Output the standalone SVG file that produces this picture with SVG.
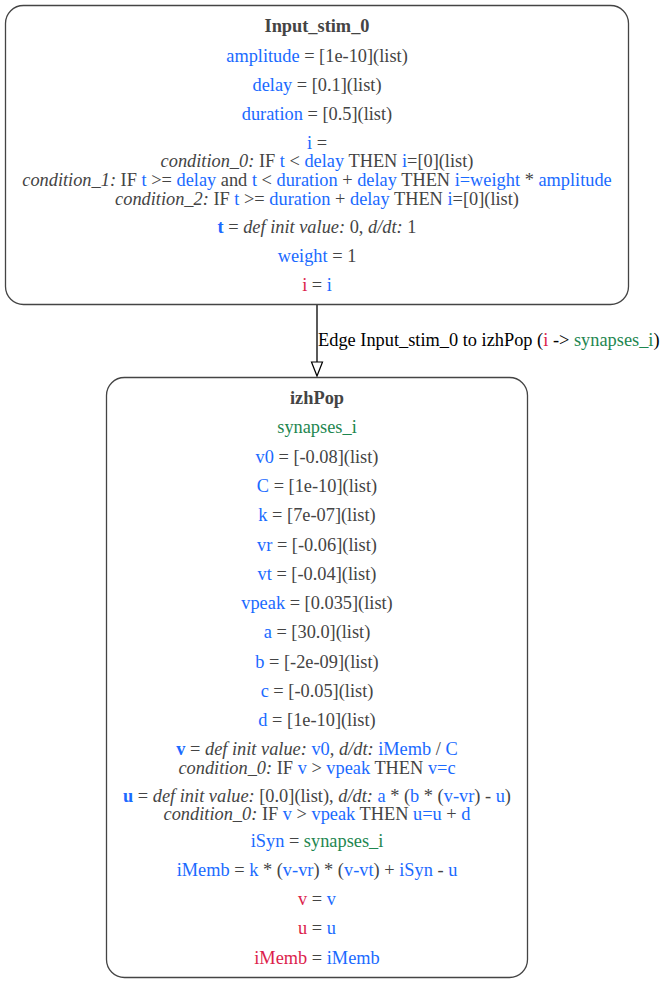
<svg xmlns="http://www.w3.org/2000/svg" width="663" height="985" viewBox="0 0 663 985">
  <defs>
    <style>
      text { font-family: "Liberation Serif", "Times New Roman", serif; font-size: 18.35px; fill: #444444; text-anchor: middle; }
      .title { font-weight: bold; }
      .b { fill: #1a6aff; }
      .r { fill: #dc1e4c; }
      .g { fill: #1e8650; }
      .it { font-style: italic; }
      .bold { font-weight: bold; }
      .node { fill: #ffffff; stroke: #444444; stroke-width: 1.3; }
      .edge { stroke: #000000; stroke-width: 1.3; fill: none; }
      .elabel { fill: #000000; text-anchor: start; }
    </style>
  </defs>
  <rect width="663" height="985" fill="#ffffff"/>

  <g id="connectors">
    <line class="edge" x1="317" y1="305" x2="317" y2="362"/>
    <path d="M311.5,362 L322.5,362 L317,376 Z" fill="#ffffff" stroke="#000000" stroke-width="1.2"/>
    <text class="elabel" x="318" y="346">Edge Input_stim_0 to izhPop (<tspan class="r">i</tspan> -&gt; <tspan class="g">synapses_i</tspan>)</text>
  </g>

  <g id="Input_stim_0">
    <rect class="node" x="5.5" y="5.5" width="623" height="299" rx="18" ry="18"/>
    <text class="title" x="317" y="32">Input_stim_0</text>
    <text x="317" y="62"><tspan class="b">amplitude</tspan> = [1e-10](list)</text>
    <text x="317" y="91"><tspan class="b">delay</tspan> = [0.1](list)</text>
    <text x="317" y="120"><tspan class="b">duration</tspan> = [0.5](list)</text>
    <text x="317" y="149"><tspan class="b">i</tspan> =</text>
    <text x="317" y="167"><tspan class="it">condition_0:</tspan> IF <tspan class="b">t</tspan> &lt; <tspan class="b">delay</tspan> THEN <tspan class="b">i</tspan>=[0](list)</text>
    <text x="317" y="186"><tspan class="it">condition_1:</tspan> IF <tspan class="b">t</tspan> &gt;= <tspan class="b">delay</tspan> and <tspan class="b">t</tspan> &lt; <tspan class="b">duration</tspan> + <tspan class="b">delay</tspan> THEN <tspan class="b">i=weight</tspan> * <tspan class="b">amplitude</tspan></text>
    <text x="317" y="205"><tspan class="it">condition_2:</tspan> IF <tspan class="b">t</tspan> &gt;= <tspan class="b">duration</tspan> + <tspan class="b">delay</tspan> THEN <tspan class="b">i</tspan>=[0](list)</text>
    <text x="317" y="233"><tspan class="b bold">t</tspan> = <tspan class="it">def init value:</tspan> 0, <tspan class="it">d/dt:</tspan> 1</text>
    <text x="317" y="262"><tspan class="b">weight</tspan> = 1</text>
    <text x="317" y="291"><tspan class="r">i</tspan> = <tspan class="b">i</tspan></text>
  </g>

  <g id="izhPop">
    <rect class="node" x="106.5" y="377.5" width="421" height="600" rx="18" ry="18"/>
    <text class="title" x="317" y="404">izhPop</text>
    <text x="317" y="433"><tspan class="g">synapses_i</tspan></text>
    <text x="317" y="463"><tspan class="b">v0</tspan> = [-0.08](list)</text>
    <text x="317" y="492"><tspan class="b">C</tspan> = [1e-10](list)</text>
    <text x="317" y="521"><tspan class="b">k</tspan> = [7e-07](list)</text>
    <text x="317" y="551"><tspan class="b">vr</tspan> = [-0.06](list)</text>
    <text x="317" y="580"><tspan class="b">vt</tspan> = [-0.04](list)</text>
    <text x="317" y="609"><tspan class="b">vpeak</tspan> = [0.035](list)</text>
    <text x="317" y="638"><tspan class="b">a</tspan> = [30.0](list)</text>
    <text x="317" y="668"><tspan class="b">b</tspan> = [-2e-09](list)</text>
    <text x="317" y="697"><tspan class="b">c</tspan> = [-0.05](list)</text>
    <text x="317" y="726"><tspan class="b">d</tspan> = [1e-10](list)</text>
    <text x="317" y="755"><tspan class="b bold">v</tspan> = <tspan class="it">def init value:</tspan> <tspan class="b">v0</tspan>, <tspan class="it">d/dt:</tspan> <tspan class="b">iMemb</tspan> / <tspan class="b">C</tspan></text>
    <text x="317" y="774"><tspan class="it">condition_0:</tspan> IF <tspan class="b">v</tspan> &gt; <tspan class="b">vpeak</tspan> THEN <tspan class="b">v=c</tspan></text>
    <text x="317" y="802"><tspan class="b bold">u</tspan> = <tspan class="it">def init value:</tspan> [0.0](list), <tspan class="it">d/dt:</tspan> <tspan class="b">a</tspan> * (<tspan class="b">b</tspan> * (<tspan class="b">v-vr</tspan>) - <tspan class="b">u</tspan>)</text>
    <text x="317" y="820"><tspan class="it">condition_0:</tspan> IF <tspan class="b">v</tspan> &gt; <tspan class="b">vpeak</tspan> THEN <tspan class="b">u=u</tspan> + <tspan class="b">d</tspan></text>
    <text x="317" y="847"><tspan class="b">iSyn</tspan> = <tspan class="g">synapses_i</tspan></text>
    <text x="317" y="876"><tspan class="b">iMemb</tspan> = <tspan class="b">k</tspan> * (<tspan class="b">v-vr</tspan>) * (<tspan class="b">v-vt</tspan>) + <tspan class="b">iSyn</tspan> - <tspan class="b">u</tspan></text>
    <text x="317" y="905"><tspan class="r">v</tspan> = <tspan class="b">v</tspan></text>
    <text x="317" y="934"><tspan class="r">u</tspan> = <tspan class="b">u</tspan></text>
    <text x="317" y="964"><tspan class="r">iMemb</tspan> = <tspan class="b">iMemb</tspan></text>
  </g>
</svg>
